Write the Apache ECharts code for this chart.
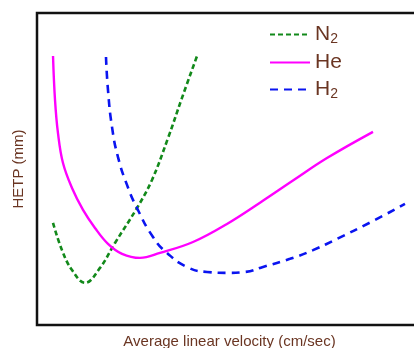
<!DOCTYPE html>
<html><head><meta charset="utf-8">
<script src="https://cdn.jsdelivr.net/npm/echarts@6/dist/echarts.min.js"></script>
<style>html,body{margin:0;padding:0;background:#fff}#c{width:414px;height:348px}</style>
</head><body><div id="c"></div>
<script>
const seriesNames = ['N2', 'He', 'H2'];
const n2Data = [[4.16,32.7],[6.49,24.0],[9.09,17.6],[12.47,13.5],[16.36,18.3],[20.26,26.3],[25.97,37.5],[29.87,46.5],[34.03,59.9],[37.66,72.8],[41.56,86.2]];
const heData = [[4.16,86.2],[4.68,72.1],[5.45,61.5],[6.75,51.9],[9.09,43.9],[11.95,36.9],[15.06,31.1],[18.44,26.0],[22.08,22.8],[26.75,21.5],[31.95,23.1],[40.52,26.6],[49.35,32.4],[57.92,39.2],[66.49,46.3],[75.32,53.5],[87.27,61.9]];
const h2Data = [[17.92,85.9],[18.44,75.3],[19.48,63.5],[21.04,53.8],[23.38,44.9],[25.97,37.5],[30.13,28.2],[33.77,23.1],[38.96,18.6],[44.16,17.0],[49.35,16.7],[54.03,17.0],[58.70,18.6],[65.71,21.2],[71.69,24.0],[77.92,27.6],[86.75,33.0],[95.58,38.8]];
const xAxisName = 'Average linear velocity (cm/sec)';
const yAxisName = 'HETP (mm)';

const txt = '#6a3522';
const chart = echarts.init(document.getElementById('c'));
chart.setOption({
  animation: false,
  textStyle: {fontFamily: 'Liberation Sans'},
  grid: {left: 37, width: 385, top: 13, height: 312, show: true, borderColor: '#111', borderWidth: 2.5, outerBoundsMode: 'none', containLabel: false},
  xAxis: {type: 'value', min: 0, max: 100, axisLine: {show: false}, axisTick: {show: false}, axisLabel: {show: false}, splitLine: {show: false},
    name: xAxisName, nameLocation: 'middle', nameGap: 9, nameTextStyle: {color: txt, fontSize: 15, fontFamily: 'Liberation Sans'}},
  yAxis: {type: 'value', min: 0, max: 100, axisLine: {show: false}, axisTick: {show: false}, axisLabel: {show: false}, splitLine: {show: false},
    name: yAxisName, nameLocation: 'middle', nameGap: 11, nameTextStyle: {color: txt, fontSize: 15, fontFamily: 'Liberation Sans'}},
  legend: {
    orient: 'vertical', left: 264, top: 19, itemWidth: 40, itemHeight: 14, itemGap: 6,
    data: seriesNames,
    itemStyle: {opacity: 0},
    formatter: function (n) { return n === 'He' ? '{b|He}' : '{b|' + n[0] + '}{s|' + n.slice(1) + '}'; },
    textStyle: {color: txt, fontFamily: 'Liberation Sans', rich: {
      b: {fontSize: 21, color: txt, fontFamily: 'Liberation Sans'},
      s: {fontSize: 14, color: txt, fontFamily: 'Liberation Sans', verticalAlign: 'bottom', padding: [9, 0, 0, 0]}
    }}
  },
  series: [
    {name: 'N2', type: 'line', smooth: 0.4, symbol: 'none', data: n2Data, lineStyle: {color: '#12891a', width: 2.6, type: [5, 3]}, itemStyle: {color: '#12891a'}},
    {name: 'He', type: 'line', smooth: 0.4, symbol: 'none', data: heData, lineStyle: {color: '#ff00ff', width: 2.4, type: 'solid'}, itemStyle: {color: '#ff00ff'}},
    {name: 'H2', type: 'line', smooth: 0.5, symbol: 'none', data: h2Data, lineStyle: {color: '#0a14f0', width: 2.6, type: [8, 6]}, itemStyle: {color: '#0a14f0'}}
  ]
});
</script></body></html>
